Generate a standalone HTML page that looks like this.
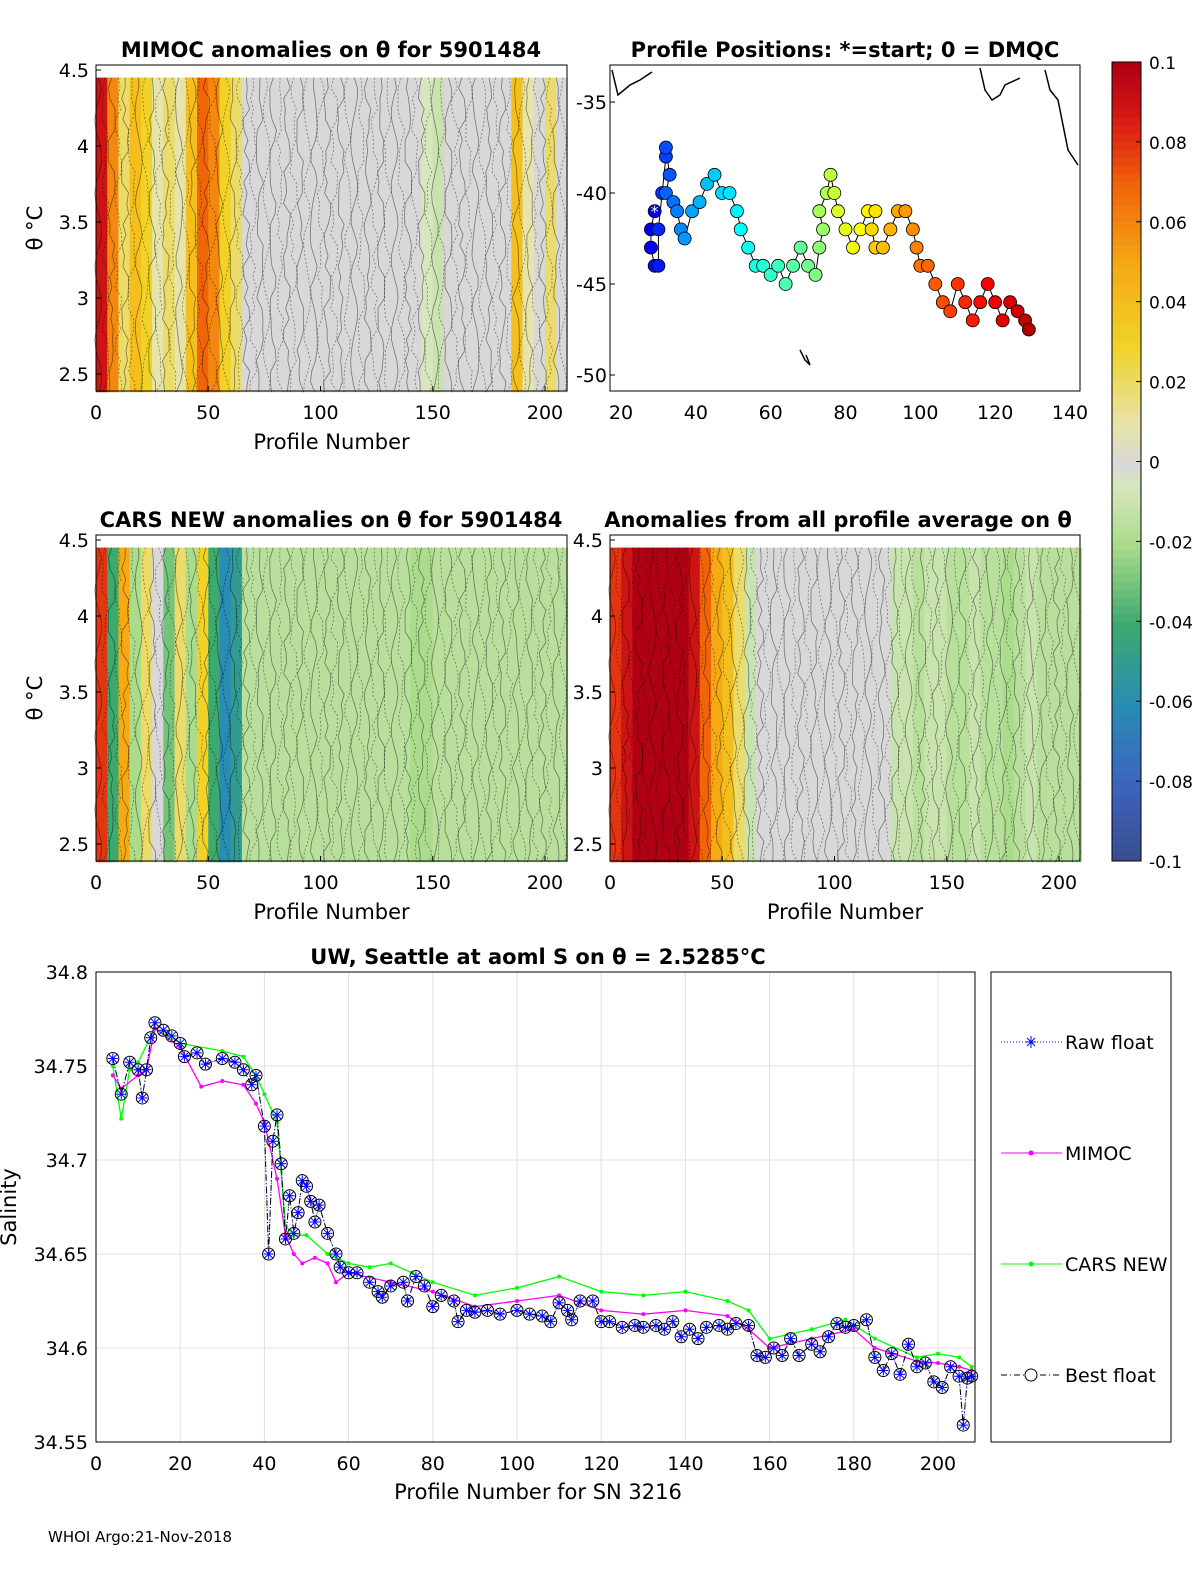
<!DOCTYPE html>
<html><head><meta charset="utf-8"><style>
body{margin:0;background:#fff}
svg text{font-family:"DejaVu Sans","Liberation Sans",sans-serif}
</style></head><body>
<svg id="fig" width="1200" height="1575" viewBox="0 0 1200 1575" xmlns="http://www.w3.org/2000/svg">
<g id="p1"></g>
<g id="p2"></g>
<g id="p3"></g>
<g id="p4"></g>
<g id="cb"></g>
<g id="p5"></g>
<text x="48" y="1542" font-size="15">WHOI Argo:21-Nov-2018</text>
</svg>
<script>
// ---- heatmap data (anomaly per 5-profile group, starting at profile 0) ----
const mimocAnom=[0.09,0.06,0.02,0.04,0.03,0.01,0.02,0.01,0.04,0.07,0.06,0.03,0.02,0,0,0,0,0,0,0,0,0,0,0,0,0,0,0,0,-0.005,-0.01,0,0,0,0,0,0,0.04,0.01,0,0.02,0];
const carsAnom=[0.08,-0.04,0.05,-0.02,0.02,0,-0.03,0.02,-0.02,0.03,-0.04,-0.06,-0.05,-0.015,-0.015,-0.015,-0.015,-0.015,-0.015,-0.015,-0.015,-0.015,-0.015,-0.015,-0.015,-0.015,-0.015,-0.015,-0.02,-0.02,-0.015,-0.015,-0.015,-0.015,-0.015,-0.015,-0.015,-0.015,-0.015,-0.015,-0.015,-0.015];
const allAnom=[0.08,0.09,0.1,0.1,0.1,0.1,0.1,0.09,0.07,0.05,0.04,0.02,-0.01,0,0,0,0,0,0,0,0,0,0,0,0,-0.01,-0.01,-0.015,-0.01,-0.01,-0.015,-0.015,-0.01,-0.015,-0.015,-0.02,-0.015,-0.01,-0.015,-0.015,-0.015,-0.015];
const heatTicksX=[0,50,100,150,200];
const heatTicksY=[2.5,3,3.5,4,4.5];
// ---- map data ----
const lons=[29,28,28,29,30,30,31,32,32,33,32,34,35,36,37,39,41,43,45,47,49,51,52,54,56,58,60,62,64,66,68,70,72,73,74,73,75,76,77,78,80,82,84,86,88,87,88,90,92,94,96,98,99,100,102,104,106,108,110,112,114,116,118,120,122,124,126,128,129];
const lats=[-41,-42,-43,-44,-44,-42,-40,-38,-37.5,-39,-40,-40.5,-41,-42,-42.5,-41,-40.5,-39.5,-39,-40,-40,-41,-42,-43,-44,-44,-44.5,-44,-45,-44,-43,-44,-44.5,-43,-42,-41,-40,-39,-40,-41,-42,-43,-42,-41,-41,-42,-43,-43,-42,-41,-41,-42,-43,-44,-44,-45,-46,-46.5,-45,-46,-47,-46,-45,-46,-47,-46,-46.5,-47,-47.5];
const mapTicksX=[20,40,60,80,100,120,140];
const mapTicksY=[-35,-40,-45,-50];
// ---- salinity data ----
const bestProf=[4,6,8,10,11,12,13,14,16,18,20,21,24,26,30,33,35,37,38,40,41,42,43,44,45,46,47,48,49,50,51,52,53,55,57,58,60,62,65,67,68,70,73,74,76,78,80,82,85,86,88,90,93,96,100,103,106,108,110,112,113,115,118,120,122,125,128,130,133,135,137,139,141,143,145,148,150,152,155,157,159,161,163,165,167,170,172,174,176,178,180,183,185,187,189,191,193,195,197,199,201,203,205,206,207,208];
const bestSal=[34.754,34.735,34.752,34.748,34.733,34.748,34.765,34.773,34.769,34.766,34.762,34.755,34.757,34.751,34.754,34.752,34.748,34.74,34.745,34.718,34.65,34.71,34.724,34.698,34.658,34.681,34.661,34.672,34.689,34.686,34.678,34.667,34.676,34.661,34.65,34.643,34.64,34.64,34.635,34.63,34.627,34.633,34.635,34.625,34.638,34.633,34.622,34.628,34.625,34.614,34.62,34.619,34.62,34.618,34.62,34.618,34.617,34.614,34.624,34.62,34.615,34.625,34.625,34.614,34.614,34.611,34.612,34.611,34.612,34.61,34.614,34.606,34.61,34.605,34.611,34.612,34.61,34.613,34.612,34.596,34.595,34.6,34.596,34.605,34.596,34.602,34.598,34.606,34.613,34.611,34.612,34.615,34.595,34.588,34.597,34.586,34.602,34.59,34.592,34.582,34.579,34.59,34.585,34.559,34.584,34.585];
const mimocProf=[4,6,10,12,14,20,25,30,35,38,40,43,45,47,49,52,55,57,60,70,80,90,100,110,120,130,140,150,155,160,170,180,185,195,200,205,208];
const mimocSal=[34.745,34.738,34.745,34.748,34.77,34.76,34.739,34.742,34.74,34.73,34.72,34.69,34.66,34.65,34.645,34.648,34.645,34.635,34.64,34.635,34.63,34.622,34.625,34.628,34.62,34.618,34.62,34.617,34.61,34.6,34.605,34.61,34.6,34.593,34.592,34.59,34.588];
const carsProf=[4,6,8,10,14,20,30,35,38,40,43,45,47,50,55,60,65,70,75,80,90,100,110,120,130,140,150,155,160,170,178,185,195,200,205,208];
const carsSal=[34.75,34.722,34.748,34.752,34.77,34.762,34.758,34.755,34.745,34.735,34.72,34.665,34.66,34.66,34.65,34.645,34.643,34.645,34.64,34.635,34.628,34.632,34.638,34.63,34.628,34.63,34.625,34.62,34.605,34.61,34.615,34.605,34.595,34.597,34.595,34.59];
const salTicksX=[0,20,40,60,80,100,120,140,160,180,200];
const salTicksY=[34.55,34.6,34.65,34.7,34.75,34.8];

const NS="http://www.w3.org/2000/svg";
function mk(parent,tag,attrs,name,txt){const e=document.createElementNS(NS,tag);for(const k in attrs)e.setAttribute(k,attrs[k]);


if(txt!==undefined)e.textContent=txt;parent.appendChild(e);return e;}
const stops=[[-0.1,[59,76,140]],[-0.08,[60,100,190]],[-0.06,[40,140,180]],[-0.04,[60,170,110]],[-0.02,[170,220,140]],[-0.005,[215,230,190]],[0,[216,216,216]],[0.01,[230,228,170]],[0.03,[240,210,40]],[0.05,[245,170,20]],[0.07,[240,100,10]],[0.085,[220,30,20]],[0.1,[175,0,20]]];
function cmap(v){v=Math.max(-0.1,Math.min(0.1,v));for(let i=0;i<stops.length-1;i++){const a=stops[i],b=stops[i+1];if(v<=b[0]){const t=(v-a[0])/(b[0]-a[0]);return 'rgb('+a[1].map((c,j)=>Math.round(c+t*(b[1][j]-c))).join(',')+')';}}return 'rgb(175,0,20)';}
function jet(t){const r=Math.max(0,Math.min(1,1.5-Math.abs(4*t-3))),g=Math.max(0,Math.min(1,1.5-Math.abs(4*t-2))),b=Math.max(0,Math.min(1,1.5-Math.abs(4*t-1)));return `rgb(${r*255|0},${g*255|0},${b*255|0})`;}

function heat(g,x0,y0,w,h,arr,title,tx,ylab,xlab){
  const X=p=>x0+(p)*(449/200), Y=t=>y0+5+(4.5-t)*152;
  const top=4.45,bot=2.38;
  arr.forEach((v,i)=>{mk(g,'rect',{x:X(i*5),y:Y(top),width:X(i*5+5)-X(i*5)+0.5,height:Y(bot)-Y(top),fill:cmap(v)},'heat-column');});
  // decorative contours
  for(let i=0;i<70;i++){const cx=X(i*3+1);let d='M'+cx+','+Y(top);for(let k=1;k<=30;k++){d+=' L'+(cx+Math.sin(i*2.3+k*0.9+Math.cos(k*i))*3.5)+','+(Y(top)+k*(Y(bot)-Y(top))/30);}
    mk(g,'path',{d:d,fill:'none',stroke:'#000','stroke-width':0.8,'stroke-dasharray':i%2?'2,2':'none',opacity:0.45},'contour-line');}
  mk(g,'rect',{x:x0,y:y0,width:w,height:h,fill:'none',stroke:'#000'},'axes-box');
  heatTicksX.forEach(t=>{mk(g,'line',{x1:X(t),x2:X(t),y1:y0+h,y2:y0+h-5,stroke:'#000'},'x-tick');mk(g,'text',{x:X(t),y:y0+h+28,'font-size':19,'text-anchor':'middle'},'x-tick-label',t);});
  heatTicksY.forEach(t=>{mk(g,'line',{x1:x0,x2:x0+5,y1:Y(t),y2:Y(t),stroke:'#000'},'y-tick');mk(g,'text',{x:x0-7,y:Y(t)+7,'font-size':19,'text-anchor':'end'},'y-tick-label',t);});
  mk(g,'text',{x:tx,y:y0-8,'font-size':21,'font-weight':'bold','text-anchor':'middle'},'panel-title',title);
  if(ylab) mk(g,'text',{x:42,y:y0+h/2,'font-size':21,'text-anchor':'middle',transform:`rotate(-90 42 ${y0+h/2})`},'y-axis-title','θ °C');
  if(xlab) mk(g,'text',{x:x0+w/2,y:y0+h+58,'font-size':21,'text-anchor':'middle'},'x-axis-title','Profile Number');
}
heat(document.getElementById('p1'),96,65,471,326,mimocAnom,'MIMOC anomalies on θ  for 5901484',331,true,true);
heat(document.getElementById('p3'),96,535,471,326,carsAnom,'CARS NEW anomalies on θ for 5901484',331,true,true);
heat(document.getElementById('p4'),610,535,470,326,allAnom,'Anomalies from all profile average on θ',838,false,true);

// map
(function(){const g=document.getElementById('p2');const x0=610,y0=65,w=470,h=326;
 const X=l=>621+(l-20)*(449/120),Y=la=>102+(-35-la)*(273/15);
 ['M612,70 L618,95 L630,85 L640,80 L652,72','M980,68 L985,90 L992,100 L1000,95 L1005,85 L1020,78','M1045,70 L1050,90 L1058,100 L1062,120 L1068,150 L1078,165','M800,350 L805,360 L810,365 L806,355'].forEach(d=>mk(g,'path',{d:d,fill:'none',stroke:'#000','stroke-width':1.5},'coastline'));
 let d='';lons.forEach((l,i)=>{d+=(i?' L':'M')+X(l)+','+Y(lats[i]);});
 mk(g,'path',{d:d,fill:'none',stroke:'#000','stroke-width':1},'float-track');
 lons.forEach((l,i)=>mk(g,'circle',{cx:X(l),cy:Y(lats[i]),r:6.5,fill:jet(0.1+0.85*i/(lons.length-1)),stroke:'#000','stroke-width':0.8},'profile-position'));
 mk(g,'text',{x:X(lons[0]),y:Y(lats[0])+6,'font-size':16,'text-anchor':'middle',fill:'#fff'},'start-marker','*');
 mk(g,'rect',{x:x0,y:y0,width:w,height:h,fill:'none',stroke:'#000'},'axes-box');
 mapTicksX.forEach(t=>mk(g,'text',{x:X(t),y:y0+h+28,'font-size':19,'text-anchor':'middle'},'x-tick-label',t));
 mapTicksY.forEach(t=>{mk(g,'line',{x1:x0,x2:x0+5,y1:Y(t),y2:Y(t),stroke:'#000'},'y-tick');mk(g,'text',{x:x0-3,y:Y(t)+7,'font-size':19,'text-anchor':'end'},'y-tick-label',t);});
 mk(g,'text',{x:845,y:57,'font-size':21,'font-weight':'bold','text-anchor':'middle'},'panel-title','Profile Positions: *=start; 0 = DMQC');
})();

// colorbar
(function(){const g=document.getElementById('cb');const x0=1112,y0=62,h=799;
 for(let i=0;i<100;i++){const v=0.1-i*0.002;mk(g,'rect',{x:x0,y:y0+i*h/100,width:29,height:h/100+0.5,fill:cmap(v)},'colorbar-cell');}
 mk(g,'rect',{x:x0,y:y0,width:29,height:h,fill:'none',stroke:'#000'},'colorbar-box');
 ['0.1','0.08','0.06','0.04','0.02','0','-0.02','-0.04','-0.06','-0.08','-0.1'].forEach((t,i)=>{const y=y0+i*h/10;mk(g,'line',{x1:x0+24,x2:x0+29,y1:y,y2:y,stroke:'#000'},'colorbar-tick');mk(g,'text',{x:1149,y:y+7,'font-size':17},'colorbar-label',t);});
})();

// salinity
(function(){const g=document.getElementById('p5');const x0=96,y0=972,w=879,h=470;
 const X=p=>x0+p*(842/200),Y=s=>y0+(34.8-s)*1880;
 salTicksX.forEach(t=>mk(g,'line',{x1:X(t),x2:X(t),y1:y0,y2:y0+h,stroke:'#e0e0e0'},'grid-x'));
 salTicksY.forEach(t=>mk(g,'line',{x1:x0,x2:x0+w,y1:Y(t),y2:Y(t),stroke:'#e0e0e0'},'grid-y'));
 const line=(px,py)=>px.map((p,i)=>(i?'L':'M')+X(p)+','+Y(py[i])).join(' ');
 mk(g,'path',{d:line(carsProf,carsSal),fill:'none',stroke:'#0f0','stroke-width':1.3},'cars-line');
 carsProf.forEach((p,i)=>mk(g,'circle',{cx:X(p),cy:Y(carsSal[i]),r:2,fill:'#0f0'},'cars-point'));
 mk(g,'path',{d:line(mimocProf,mimocSal),fill:'none',stroke:'#f0f','stroke-width':1.3},'mimoc-line');
 mimocProf.forEach((p,i)=>mk(g,'circle',{cx:X(p),cy:Y(mimocSal[i]),r:2,fill:'#f0f'},'mimoc-point'));
 mk(g,'path',{d:line(bestProf,bestSal),fill:'none',stroke:'#00f','stroke-dasharray':'1,2'},'raw-float-line');
 mk(g,'path',{d:line(bestProf,bestSal),fill:'none',stroke:'#000','stroke-dasharray':'6,3,1,3'},'best-float-line');
 bestProf.forEach((p,i)=>{const cx=X(p),cy=Y(bestSal[i]);
  mk(g,'path',{d:`M${cx-5},${cy}H${cx+5}M${cx},${cy-5}V${cy+5}M${cx-4},${cy-4}L${cx+4},${cy+4}M${cx-4},${cy+4}L${cx+4},${cy-4}`,stroke:'#00f','stroke-width':1},'raw-float-point');
  mk(g,'circle',{cx:cx,cy:cy,r:6,fill:'none',stroke:'#000'},'best-float-point');});
 mk(g,'rect',{x:x0,y:y0,width:w,height:h,fill:'none',stroke:'#000'},'axes-box');
 salTicksX.forEach(t=>mk(g,'text',{x:X(t),y:y0+h+28,'font-size':19,'text-anchor':'middle'},'x-tick-label',t));
 salTicksY.forEach(t=>mk(g,'text',{x:x0-8,y:Y(t)+7,'font-size':19,'text-anchor':'end'},'y-tick-label',t.toFixed(t*100%5===0&&(t*100)%10===0?1:2).replace(/0$/,'')));
 mk(g,'text',{x:538,y:1499,'font-size':21,'text-anchor':'middle'},'x-axis-title','Profile Number for SN 3216');
 mk(g,'text',{x:16,y:1207,'font-size':21,'text-anchor':'middle',transform:'rotate(-90 16 1207)'},'y-axis-title','Salinity');
 mk(g,'text',{x:538,y:964,'font-size':21,'font-weight':'bold','text-anchor':'middle'},'chart-title','UW, Seattle at aoml S on θ = 2.5285°C');
 // legend
 const L=mk(g,'g',{},'legend');
 mk(L,'rect',{x:991,y:972,width:180,height:470,fill:'#fff',stroke:'#000'},'legend-box');
 const ent=[['Raw float',1042,'#00f','1,2'],['MIMOC',1153,'#f0f','none'],['CARS NEW',1264,'#0f0','none'],['Best float',1375,'#000','6,3,1,3']];
 ent.forEach((e,i)=>{mk(L,'line',{x1:1001,x2:1062,y1:e[1],y2:e[1],stroke:e[2],'stroke-dasharray':e[3]},'legend-line');
  if(i==0)mk(L,'path',{d:'M1026,1042H1036M1031,1036V1048M1027,1038L1035,1046M1027,1046L1035,1038',stroke:'#00f'},'legend-marker');
  else if(i==3)mk(L,'circle',{cx:1031,cy:1375,r:6,fill:'#fff',stroke:'#000'},'legend-marker');
  else mk(L,'circle',{cx:1031,cy:e[1],r:2.5,fill:e[2]},'legend-marker');
  mk(L,'text',{x:1065,y:e[1]+7,'font-size':19},'legend-label',e[0]);});
})();
</script>
</body></html>
